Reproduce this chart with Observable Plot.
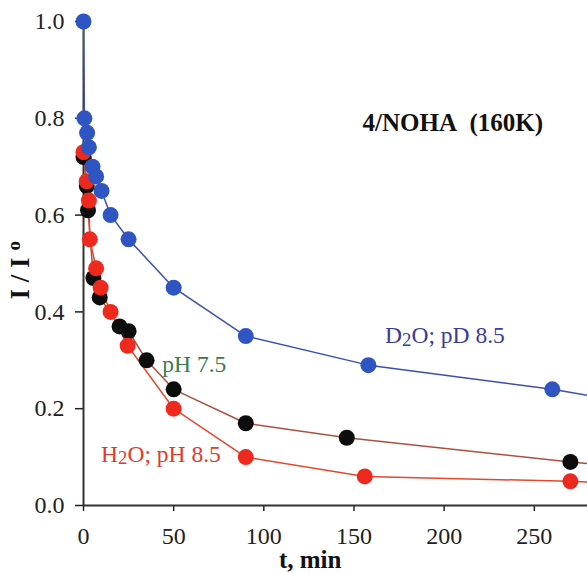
<!DOCTYPE html>
<html>
<head>
<meta charset="utf-8">
<script src="https://cdn.jsdelivr.net/npm/d3@7"></script>
<script src="https://cdn.jsdelivr.net/npm/@observablehq/plot@0.6"></script>
<style>
  html, body { margin: 0; padding: 0; background: white; }
  #chart svg { display: block; }
</style>
</head>
<body>
<div id="chart"></div>
<script>
// D2O; pD 8.5 (blue)
const tD2O = [0, 0.5, 2, 3, 5, 7, 10, 15, 25, 50, 90, 158, 260, 300];
const vD2O = [1.0, 0.80, 0.77, 0.74, 0.70, 0.68, 0.65, 0.60, 0.55, 0.45, 0.35, 0.29, 0.24, 0.215];
// pH 7.5 (black)
const tPH75 = [0, 1.8, 2.5, 5.5, 9, 20, 25, 35, 50, 90, 146, 270, 300];
const vPH75 = [0.72, 0.66, 0.61, 0.47, 0.43, 0.37, 0.36, 0.30, 0.24, 0.17, 0.14, 0.09, 0.08];
// H2O; pH 8.5 (red)
const tH2O = [0, 1.8, 3, 3.5, 7, 9.5, 15, 24.5, 50, 90, 156, 270, 300];
const vH2O = [0.73, 0.67, 0.63, 0.55, 0.49, 0.45, 0.40, 0.33, 0.20, 0.10, 0.06, 0.05, 0.045];

const xTicks = [0, 50, 100, 150, 200, 250];
const yTicks = [0, 0.2, 0.4, 0.6, 0.8, 1.0];
const xMax = 279.5;

const toRows = (ts, vs) => ts.map((t, i) => ({t, v: vs[i]}));
const d2o = toRows(tD2O, vD2O);
const ph75 = toRows(tPH75, vPH75);
const h2o = toRows(tH2O, vH2O);
const visible = rows => rows.filter(d => d.t <= xMax);

const chart = Plot.plot({
  width: 587,
  height: 573,
  marginLeft: 83,
  marginRight: 0,
  marginTop: 21,
  marginBottom: 68,
  style: {fontFamily: "'Liberation Serif', 'Times New Roman', serif", fontSize: "24px", color: "#222", background: "white"},
  x: {domain: [0, xMax], label: null},
  y: {domain: [0, 1], label: null},
  marks: [
    Plot.axisX({ticks: xTicks, tickSize: 6, label: null, tickFormat: () => "", strokeWidth: 1.5}),
    Plot.text(xTicks, {x: d => d, frameAnchor: "bottom", dy: 38, text: d => String(d), fontSize: 24, fill: "#222"}),
    Plot.axisY({ticks: yTicks, tickSize: 8, tickPadding: 11, label: null, tickFormat: d3.format(".1f"), strokeWidth: 1.5, fontSize: 24}),
    Plot.ruleX([0], {y1: 0, y2: 1, stroke: "#333", strokeWidth: 2}),
    Plot.ruleY([0], {stroke: "#333", strokeWidth: 2}),
    Plot.line(ph75, {x: "t", y: "v", stroke: "#a9513d", strokeWidth: 1.5, clip: true}),
    Plot.line(h2o, {x: "t", y: "v", stroke: "#e5482f", strokeWidth: 1.5, clip: true}),
    Plot.line(d2o, {x: "t", y: "v", stroke: "#3d4fae", strokeWidth: 1.5, clip: true}),
    Plot.dot(visible(ph75), {x: "t", y: "v", r: 8, fill: "#0d0d0d"}),
    Plot.dot(visible(h2o), {x: "t", y: "v", r: 8, fill: "#ee2a1f"}),
    Plot.dot(visible(d2o), {x: "t", y: "v", r: 8, fill: "#2f55c3"})
  ]
});

document.getElementById("chart").appendChild(chart);

const svg = d3.select(chart);
const xs = chart.scale("x"), ys = chart.scale("y");
const font = "'Liberation Serif', 'Times New Roman', serif";

function label(t, v, parts, {size = 23.5, weight = "normal", color = "#222", anchor = "start"} = {}) {
  const el = svg.append("text")
    .attr("x", xs.apply(t))
    .attr("y", ys.apply(v))
    .attr("font-family", font)
    .attr("font-size", size)
    .attr("font-weight", weight)
    .attr("fill", color)
    .attr("text-anchor", anchor);
  for (const p of parts) {
    const ts = el.append("tspan").text(p.text);
    if (p.sub) ts.attr("font-size", size * 0.8).attr("dy", "0.12em");
    if (p.reset) ts.attr("dy", "-0.1em");
  }
  return el;
}

label(155, 0.772, [{text: "4/NOHA\u00a0\u00a0(160K)"}], {size: 25, weight: "bold", color: "#111"});
label(167.5, 0.334, [{text: "D"}, {text: "2", sub: true}, {text: "O; pD 8.5", reset: true}], {color: "#3a3c98"});
label(44, 0.275, [{text: "pH 7.5"}], {color: "#3b7b4c"});
label(10, 0.089, [{text: "H"}, {text: "2", sub: true}, {text: "O; pH 8.5", reset: true}], {color: "#e03a2a"});

// x-axis title
svg.append("text")
  .attr("x", xs.apply(126))
  .attr("y", 568)
  .attr("font-family", font).attr("font-size", 25).attr("font-weight", "bold")
  .attr("fill", "#111").attr("text-anchor", "middle")
  .text("t, min");

// y-axis title
const yl = svg.append("text")
  .attr("transform", `translate(29,${ys.apply(0.485)}) rotate(-90)`)
  .attr("font-family", font).attr("font-size", 27).attr("font-weight", "bold")
  .attr("fill", "#111").attr("text-anchor", "middle");
yl.append("tspan").text("I / I ");
yl.append("tspan").attr("font-size", 19).attr("dy", "-0.45em").text("o");
</script>
</body>
</html>
